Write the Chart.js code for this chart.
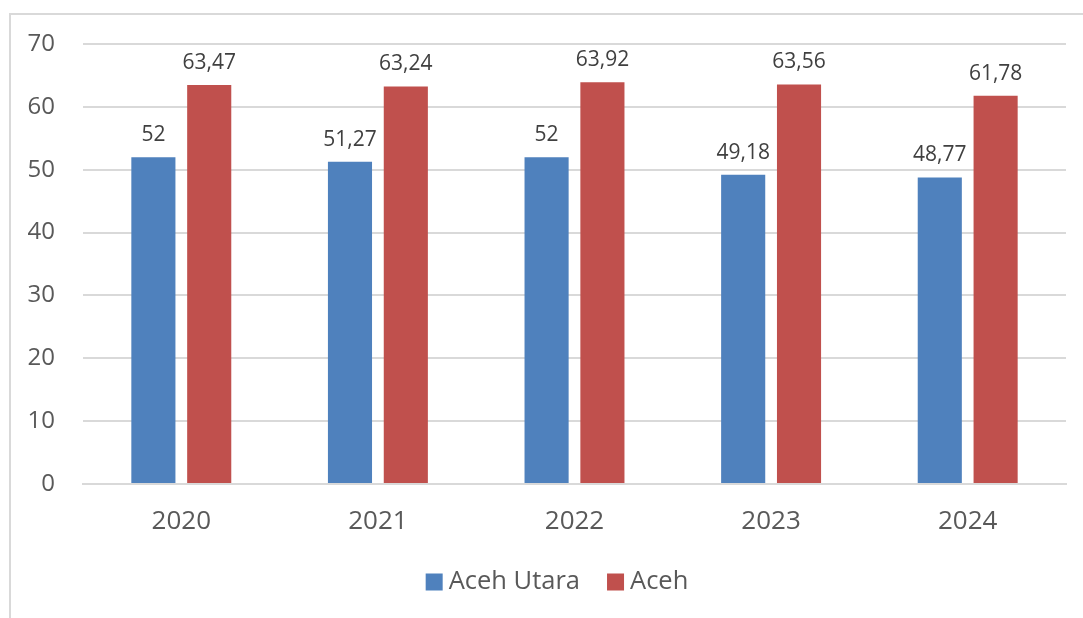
<!DOCTYPE html>
<html>
<head>
<meta charset="utf-8">
<script src="https://cdn.jsdelivr.net/npm/chart.js@4"></script>
<style>
  html,body{margin:0;padding:0;background:#fff;}
  #wrap{position:relative;width:1083px;height:618px;overflow:hidden;}
  #frame{position:absolute;left:9px;top:13px;width:1200px;height:800px;border-left:2px solid #d9d9d9;border-top:2px solid #d9d9d9;}
  canvas{position:absolute;left:0;top:0;}
</style>
</head>
<body>
<div id="wrap">
  <div id="frame"></div>
  <canvas id="c" width="1083" height="618"></canvas>
</div>
<script>
const categories = ['2020', '2021', '2022', '2023', '2024'];
const acehUtara = [52, 51.27, 52, 49.18, 48.77];
const aceh = [63.47, 63.24, 63.92, 63.56, 61.78];
const seriesNames = ['Aceh Utara', 'Aceh'];
const yTicks = [0, 10, 20, 30, 40, 50, 60, 70];

const FONT = "'Open Sans', sans-serif";
const TEXT = '#595959';

const labelPlugin = {
  id: 'dataLabels',
  afterDatasetsDraw(chart) {
    const ctx = chart.ctx;
    ctx.save();
    ctx.font = "21px " + FONT;
    ctx.fillStyle = '#404040';
    ctx.textAlign = 'center';
    ctx.textBaseline = 'alphabetic';
    chart.data.datasets.forEach((ds, i) => {
      const meta = chart.getDatasetMeta(i);
      meta.data.forEach((bar, j) => {
        const txt = String(ds.data[j]).replace('.', ',');
        ctx.fillText(txt, bar.x, bar.y - 16);
      });
    });
    ctx.restore();
  }
};

const legendPlugin = {
  id: 'customLegend',
  afterDraw(chart) {
    const ctx = chart.ctx;
    ctx.save();
    ctx.font = "25.5px " + FONT;
    const box = 17, gap = 6, itemGap = 27, cy = 582, cx = 557;
    const items = chart.data.datasets.map(ds => ({ text: ds.label, color: ds.backgroundColor, w: ctx.measureText(ds.label).width }));
    let total = items.reduce((s, it) => s + box + gap + it.w, 0) + itemGap * (items.length - 1);
    let x = cx - total / 2;
    ctx.textBaseline = 'middle';
    ctx.textAlign = 'left';
    items.forEach(it => {
      ctx.fillStyle = it.color;
      ctx.fillRect(x, cy - box / 2, box, box);
      ctx.fillStyle = TEXT;
      ctx.fillText(it.text, x + box + gap, cy);
      x += box + gap + it.w + itemGap;
    });
    ctx.restore();
  }
};

new Chart(document.getElementById('c'), {
  type: 'bar',
  data: {
    labels: categories,
    datasets: [
      { label: seriesNames[0], data: acehUtara, backgroundColor: '#4F81BD', categoryPercentage: 0.568, barPercentage: 0.79 },
      { label: seriesNames[1], data: aceh, backgroundColor: '#C0504D', categoryPercentage: 0.568, barPercentage: 0.79 }
    ]
  },
  options: {
    responsive: false,
    animation: false,
    layout: { padding: { top: 44, right: 17, left: 0, bottom: 75.5 } },
    plugins: {
      tooltip: { enabled: false },
      legend: { display: false }
    },
    scales: {
      x: {
        grid: { display: false, drawTicks: false },
        border: { display: true, color: '#d9d9d9', width: 2 },
        ticks: { font: { family: FONT, size: 26 }, color: TEXT, padding: 22 },
        afterFit(scale) { scale.height = 58.5; }
      },
      y: {
        min: 0, max: 70,
        afterBuildTicks(scale) { scale.ticks = yTicks.map(v => ({ value: v })); },
        grid: { color: '#d9d9d9', lineWidth: 2, drawTicks: false },
        border: { display: false },
        ticks: { font: { family: FONT, size: 24 }, color: TEXT, padding: 28 },
        afterFit(scale) { scale.width = 83; }
      }
    }
  },
  plugins: [labelPlugin, legendPlugin]
});
</script>
</body>
</html>
